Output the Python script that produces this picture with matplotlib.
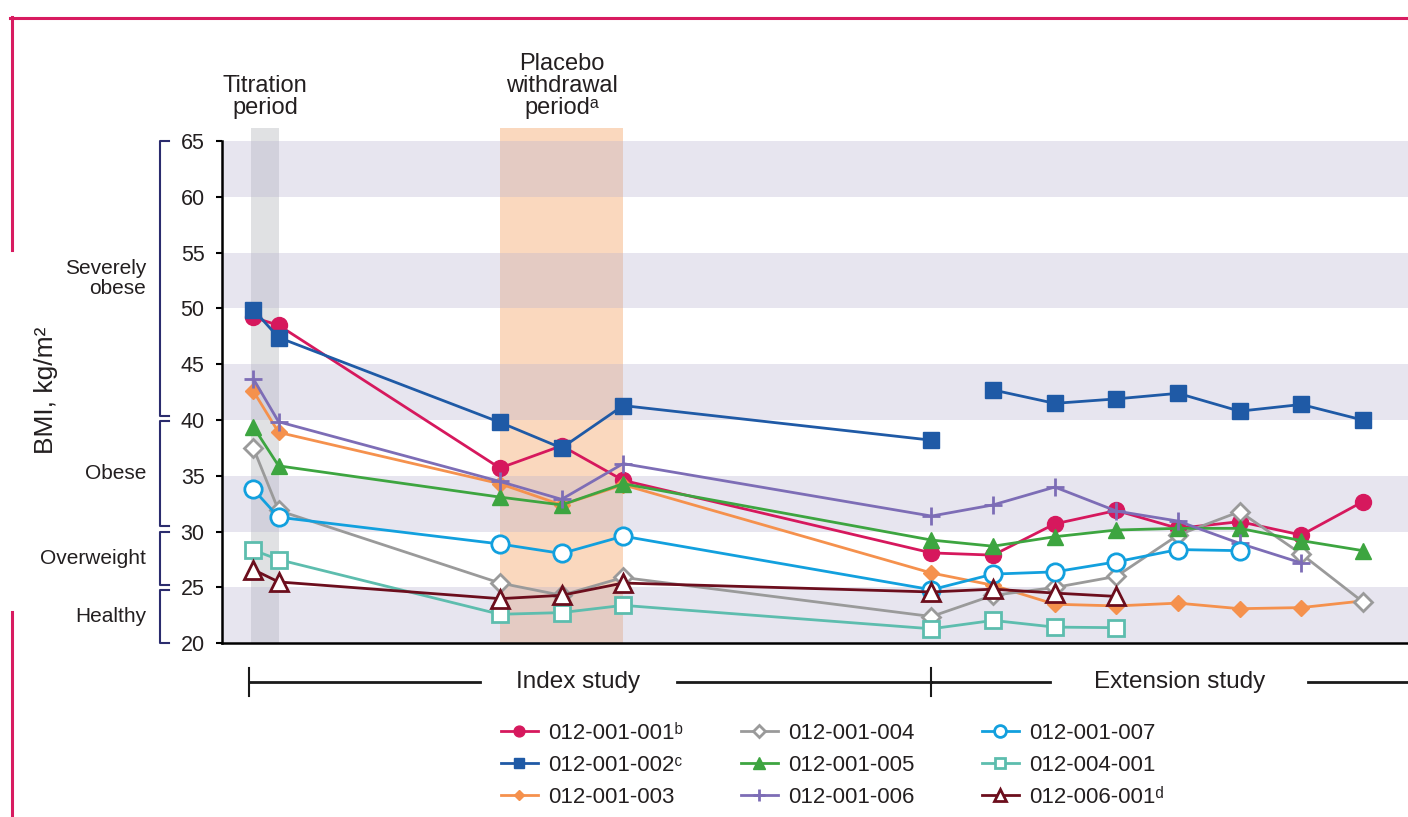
import matplotlib
matplotlib.use("Agg")
import matplotlib.pyplot as plt
from matplotlib.lines import Line2D
from matplotlib.transforms import blended_transform_factory

plt.rcParams['font.family'] = ['Liberation Sans', 'DejaVu Sans']
TEXT = '#231F20'

# Visit positions along the time axis (index study, then extension study)
visits = [0, 0.41, 4, 5, 6, 11, 12, 13, 14, 15, 16, 17, 18]

# BMI (kg/m²) per patient at each visit; None = no measurement
bmi_001 = [49.2, 48.5, 35.7, 37.7, 34.6, 28.1, 27.9, 30.7, 31.9, 30.3, 30.9, 29.7, 32.7]
bmi_002 = [49.9, 47.4, 39.8, 37.5, 41.3, 38.2, 42.7, 41.5, 41.9, 42.4, 40.8, 41.4, 40.0]
bmi_003 = [42.6, 38.9, 34.3, 32.4, 34.2, 26.3, 25.2, 23.5, 23.35, 23.6, 23.1, 23.2, 23.8]
bmi_004 = [37.5, 31.9, 25.4, 24.3, 25.9, 22.4, 24.3, 25.0, 26.0, 29.7, 31.8, 28.0, 23.7]
bmi_005 = [39.4, 35.9, 33.1, 32.4, 34.3, 29.25, 28.7, 29.55, 30.15, 30.3, 30.3, 29.2, 28.3]
bmi_006 = [43.7, 39.85, 34.5, 32.9, 36.1, 31.4, 32.4, 34.0, 31.85, 30.95, 28.95, 27.2, None]
bmi_007 = [33.8, 31.3, 28.9, 28.05, 29.6, 24.8, 26.2, 26.4, 27.3, 28.4, 28.3, None, None]
bmi_004_001 = [28.35, 27.5, 22.6, 22.75, 23.4, 21.3, 22.05, 21.45, 21.4, None, None, None, None]
bmi_006_001 = [26.6, 25.5, 24.0, 24.3, 25.4, 24.6, 24.85, 24.5, 24.2, None, None, None, None]

patient_labels = ['012-001-001\u1d47', '012-001-002\u1d9c', '012-001-003',
                  '012-001-004', '012-001-005', '012-001-006',
                  '012-001-007', '012-004-001', '012-006-001\u1d48']
patient_values = [bmi_001, bmi_002, bmi_003, bmi_004, bmi_005, bmi_006,
                  bmi_007, bmi_004_001, bmi_006_001]

# Line is not drawn across this visit boundary for patient 002
line_break_after = {1: 11}

styles = [
    dict(color='#D6185D', marker='o', ms=11.5, mfc='#D6185D', mew=1),
    dict(color='#1F5AA6', marker='s', ms=11.5, mfc='#1F5AA6', mew=1),
    dict(color='#F5914D', marker='D', ms=8, mfc='#F5914D', mew=1),
    dict(color='#9A9A9A', marker='D', ms=9, mfc='white', mew=2),
    dict(color='#3DA540', marker='^', ms=12, mfc='#3DA540', mew=1),
    dict(color='#7D6DB6', marker='+', ms=13, mfc='#7D6DB6', mew=2),
    dict(color='#12A0DE', marker='o', ms=12.5, mfc='white', mew=2),
    dict(color='#5DBDAE', marker='s', ms=11, mfc='white', mew=2),
    dict(color='#6C0E1D', marker='^', ms=12.5, mfc='white', mew=2),
]

bmi_categories = ['Severely\nobese', 'Obese', 'Overweight', 'Healthy']
category_ranges = [(40.4, 65.0), (30.5, 39.9), (25.2, 30.0), (20.0, 24.8)]

fig = plt.figure(figsize=(14.08, 8.17), dpi=100)
ax = fig.add_axes([222 / 1408, 1 - 643.3 / 817, 1 - 222 / 1408, (643.3 - 127.7) / 817])
ax.set_xlim(-0.508, 18.73)
ax.set_ylim(20, 66.2)

# Period shading
ax.axvspan(-0.04, 0.42, color='#E0E1E3', lw=0, zorder=0)
ax.axvspan(4, 6, color='#FAD8BE', lw=0, zorder=0)
# Alternating horizontal bands
for lo in range(20, 65, 10):
    ax.axhspan(lo, lo + 5, color='#B7B1D0', alpha=0.32, lw=0, zorder=0.5)

# Patient lines
for i, (vals, st) in enumerate(zip(patient_values, styles)):
    pts = [(x, v) for x, v in zip(visits, vals) if v is not None]
    brk = line_break_after.get(i)
    groups = [pts] if brk is None else [[p for p in pts if p[0] <= brk],
                                        [p for p in pts if p[0] > brk]]
    for g in groups:
        ax.plot([p[0] for p in g], [p[1] for p in g], color=st['color'], lw=2,
                marker=st['marker'], ms=st['ms'], mfc=st['mfc'], mec=st['color'],
                mew=st['mew'], zorder=3, clip_on=False)

# Axes styling
for s in ['top', 'right']:
    ax.spines[s].set_visible(False)
ax.spines['left'].set_bounds(20, 65)
ax.spines['left'].set_linewidth(1.8)
ax.spines['bottom'].set_linewidth(1.8)
ax.set_xticks([])
ax.set_yticks(range(20, 66, 5))
ax.tick_params(axis='y', length=4.5, width=1.5, pad=8, labelsize=15.5, labelcolor=TEXT)

fig.text(46 / 1408, 1 - 390 / 817, 'BMI, kg/m\u00b2', rotation=90, ha='center',
         va='center', fontsize=19, color=TEXT)

# Category brackets
tr_cat = blended_transform_factory(fig.transFigure, ax.transData)
bx, hx = 160 / 1408, 169 / 1408
for name, (lo, hi) in zip(bmi_categories, category_ranges):
    ax.add_line(Line2D([hx, bx, bx, hx], [hi, hi, lo, lo], transform=tr_cat,
                       color='#2B2C6E', lw=1.5, clip_on=False))
    ax.text(146 / 1408, (lo + hi) / 2, name, transform=tr_cat, ha='right',
            va='center', fontsize=15, color=TEXT, linespacing=1.05)

# Period headings
tr_top = blended_transform_factory(ax.transData, fig.transFigure)
ax.text(0.19, 1 - 119 / 817, 'Titration\nperiod', transform=tr_top, ha='center',
        va='bottom', fontsize=17, color=TEXT, linespacing=1.0)
ax.text(5.0, 1 - 119 / 817, 'Placebo\nwithdrawal\nperiod\u1d43', transform=tr_top,
        ha='center', va='bottom', fontsize=17, color=TEXT, linespacing=1.0)

# Study timeline bar
yb = 1 - 682 / 817
for x0, x1 in [(-0.07, 3.68), (6.87, 11.0), (11.0, 12.92), (17.11, 18.8)]:
    ax.add_line(Line2D([x0, x1], [yb, yb], transform=tr_top, color='#1A1A1A',
                       lw=2, clip_on=False))
for xt in [-0.07, 11.0]:
    ax.add_line(Line2D([xt, xt], [1 - 668 / 817, 1 - 696 / 817], transform=tr_top,
                       color='#1A1A1A', lw=1.5, clip_on=False))
ax.text(5.275, yb, 'Index study', transform=tr_top, ha='center', va='center',
        fontsize=17.5, color=TEXT)
ax.text(15.02, yb, 'Extension study', transform=tr_top, ha='center', va='center',
        fontsize=17.5, color=TEXT)

# Legend: three columns of three patients each
handles = [Line2D([], [], color=st['color'], lw=2, marker=st['marker'], ms=st['ms'],
                  mfc=st['mfc'], mec=st['color'], mew=st['mew'])
           for st in styles]
for col, x_left in enumerate([501, 741, 982]):
    sl = slice(3 * col, 3 * col + 3)
    fig.legend(handles[sl], patient_labels[sl], ncol=1, loc='upper left',
               bbox_to_anchor=(x_left / 1408, 1 - 723 / 817), frameon=False,
               fontsize=16, handlelength=1.65, handletextpad=0.45,
               labelspacing=0.5, markerscale=0.68, borderpad=0, borderaxespad=0,
               labelcolor=TEXT)

# Page frame accents
pink = '#D81B60'
fig.add_artist(Line2D([10 / 1408, 1], [1 - 18 / 817] * 2, color=pink, lw=2.2))
fig.add_artist(Line2D([12 / 1408] * 2, [1 - 17 / 817, 1 - 250 / 817], color=pink, lw=2.2))
fig.add_artist(Line2D([12 / 1408] * 2, [1 - 612 / 817, 0], color=pink, lw=2.2))

fig.savefig('out.png', dpi=100)
